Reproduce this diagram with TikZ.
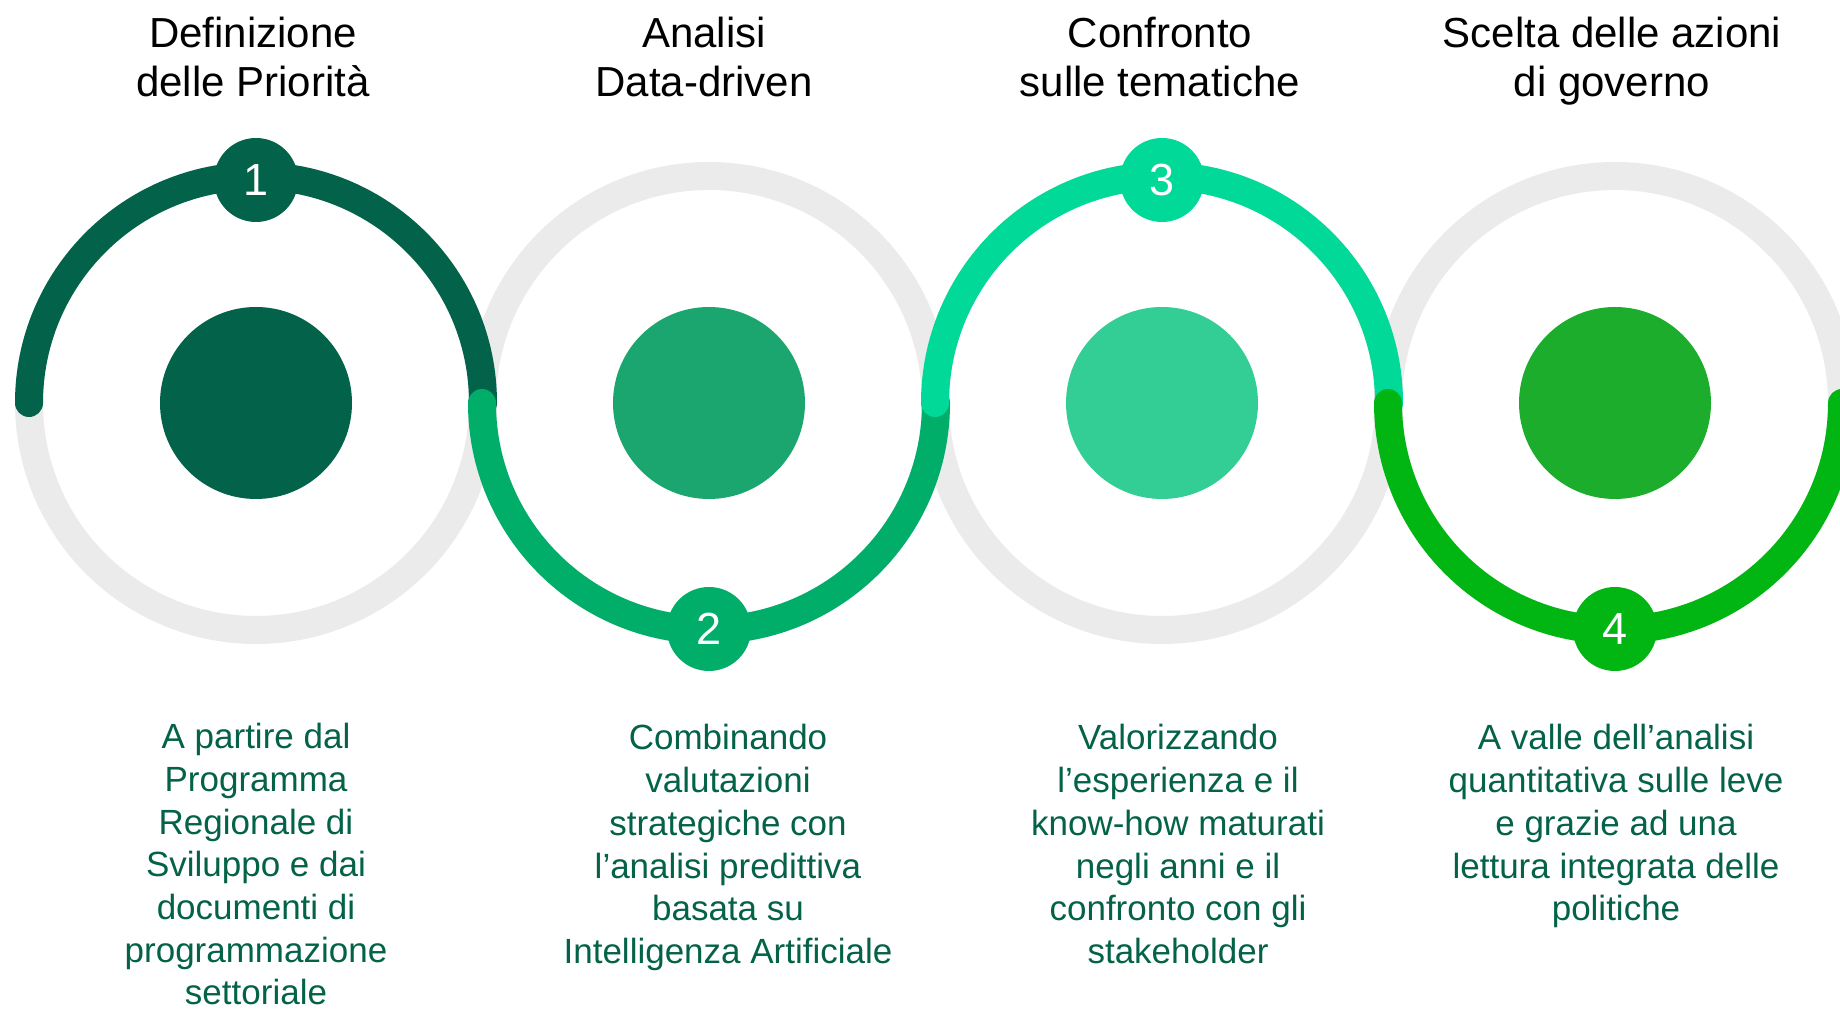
\documentclass[tikz,border=0pt]{standalone}
\usepackage{fontspec}
\setmainfont{Liberation Sans}
\definecolor{ringgray}{HTML}{EBEBEB}
\definecolor{arcone}{HTML}{03634A}
\definecolor{arctwo}{HTML}{00AE6A}
\definecolor{arcthree}{HTML}{00D998}
\definecolor{arcfour}{HTML}{01B612}
\definecolor{diskone}{HTML}{03634A}
\definecolor{disktwo}{HTML}{1CA66F}
\definecolor{diskthree}{HTML}{33CE95}
\definecolor{diskfour}{HTML}{1DAD2D}
\definecolor{bodygreen}{HTML}{046249}
\begin{document}
\begin{tikzpicture}[x=1pt,y=1pt,
  ring/.style={draw=ringgray, line width=28pt},
  arcline/.style={line width=28pt, line cap=round},
  disk/.style={circle, minimum size=192pt, inner sep=0pt},
  badge/.style={circle, minimum size=84pt, inner sep=0pt, text=white, font=\fontsize{45}{45}\selectfont},
  title/.style={align=center, anchor=base, font=\fontsize{42}{49.3}\selectfont, text=black, inner sep=0pt},
  body/.style={align=center, anchor=base, font=\fontsize{35}{42.7}\selectfont, text=bodygreen, inner sep=0pt}]
\useasboundingbox (0,0) rectangle (1840,1009);
\clip (0,0) rectangle (1840,1009);
\coordinate (c1) at (256,606);
\coordinate (c2) at (709,606);
\coordinate (c3) at (1162,606);
\coordinate (c4) at (1615,606);
% gray rings
\foreach \c in {c1,c2,c3,c4} \draw[ring] (\c) circle[radius=227];
% central disks
\node[disk, fill=diskone] (k1) at (c1) {};
\node[disk, fill=disktwo] (k2) at (c2) {};
\node[disk, fill=diskthree] (k3) at (c3) {};
\node[disk, fill=diskfour] (k4) at (c4) {};
% coloured arcs
\draw[arcline, draw=arcone] ([xshift=-227pt]c1) arc[start angle=180, end angle=0, radius=227];
\draw[arcline, draw=arctwo] ([xshift=-227pt]c2) arc[start angle=180, end angle=360, radius=227];
\draw[arcline, draw=arcthree] ([xshift=-227pt]c3) arc[start angle=180, end angle=0, radius=227];
\draw[arcline, draw=arcfour] ([xshift=-227pt]c4) arc[start angle=180, end angle=360, radius=227];
% badges
\node[badge, fill=arcone] (b1) at ([yshift=223pt]c1) {1};
\node[badge, fill=arctwo] (b2) at ([yshift=-226pt]c2) {2};
\node[badge, fill=arcthree] (b3) at ([yshift=223pt]c3) {3};
\node[badge, fill=arcfour] (b4) at ([yshift=-226pt]c4) {4};
% titles (anchor = baseline of the last line)
\node[title] (t1) at (253,912.3) {Definizione\\delle Priorità};
\node[title] (t2) at (704,912.3) {Analisi\\Data-driven};
\node[title] (t3) at (1160,912.3) {Confronto\\sulle tematiche};
\node[title] (t4) at (1612,912.3) {Scelta delle azioni\\di governo};
% descriptions (anchor = baseline of the last line)
\node[body] (d1) at (256,4) {A partire dal\\Programma\\Regionale di\\Sviluppo e dai\\documenti di\\programmazione\\settoriale};
\node[body] (d2) at (728,45.5) {Combinando\\valutazioni\\strategiche con\\l’analisi predittiva\\basata su\\Intelligenza Artificiale};
\node[body] (d3) at (1178,45.5) {Valorizzando\\l’esperienza e il\\know-how maturati\\negli anni e il\\confronto con gli\\stakeholder};
\node[body] (d4) at (1616,88.2) {A valle dell’analisi\\quantitativa sulle leve\\e grazie ad una\\lettura integrata delle\\politiche};
\end{tikzpicture}
\end{document}
